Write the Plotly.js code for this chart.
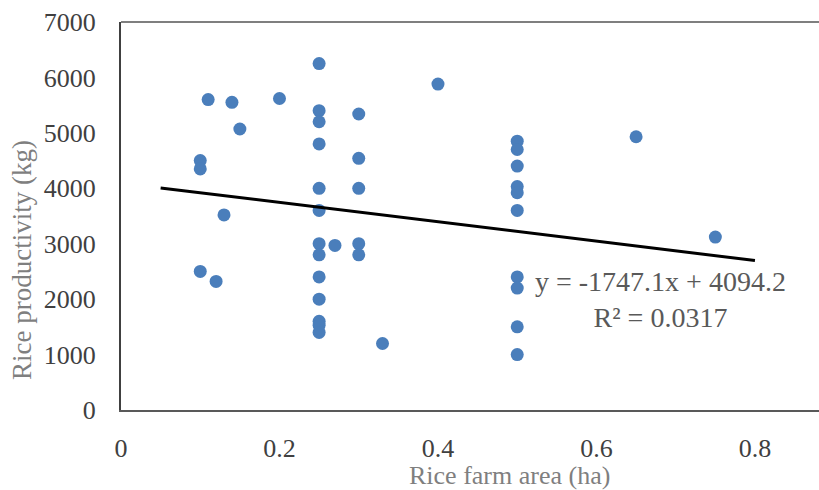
<!DOCTYPE html>
<html>
<head>
<meta charset="utf-8">
<script src="https://cdn.plot.ly/plotly-3.0.1.min.js"></script>
<style>html,body{margin:0;padding:0;background:#fff;}#chart{width:819px;height:490px;}</style>
</head>
<body>
<div id="chart"></div>
<script>
// Observed data: rice farm area (ha) vs rice productivity (kg)
var farmArea = [0.11, 0.14, 0.20, 0.15, 0.10, 0.10, 0.13, 0.10, 0.12,
                0.25, 0.25, 0.25, 0.25, 0.25, 0.25, 0.25, 0.25, 0.25, 0.25, 0.25, 0.25, 0.25,
                0.27, 0.30, 0.30, 0.30, 0.30, 0.30, 0.33, 0.40,
                0.50, 0.50, 0.50, 0.50, 0.50, 0.50, 0.50, 0.50, 0.50, 0.50,
                0.65, 0.75];
var productivity = [5600, 5550, 5620, 5070, 4500, 4350, 3520, 2500, 2320,
                    6250, 5400, 5200, 4800, 4000, 3600, 3000, 2800, 2400, 2000, 1600, 1530, 1400,
                    2970, 5340, 4540, 4000, 3000, 2800, 1200, 5880,
                    4850, 4700, 4400, 4030, 3920, 3600, 2400, 2200, 1500, 1000,
                    4930, 3120];

// Linear trendline as reported on the chart
var trendSlope = -1747.1;
var trendIntercept = 4094.2;
var trendX = [0.05, 0.8];
var trendY = trendX.map(function (x) { return trendSlope * x + trendIntercept; });

var xTicks = [0, 0.2, 0.4, 0.6, 0.8];
var xTickText = ['0', '0.2', '0.4', '0.6', '0.8'];
var yTicks = [0, 1000, 2000, 3000, 4000, 5000, 6000, 7000];

var serif = 'Liberation Serif, Times New Roman, serif';

var traces = [
  {
    x: farmArea, y: productivity, type: 'scatter', mode: 'markers',
    marker: {color: '#4a7ebb', size: 13},
    showlegend: false, hoverinfo: 'x+y'
  },
  {
    x: trendX, y: trendY, type: 'scatter', mode: 'lines',
    line: {color: '#000000', width: 3},
    showlegend: false, hoverinfo: 'skip'
  }
];

var layout = {
  width: 819, height: 490,
  margin: {l: 121, r: 0, t: 22, b: 80},
  paper_bgcolor: '#ffffff', plot_bgcolor: '#ffffff',
  font: {family: serif, color: '#404040'},
  xaxis: {
    range: [0, 0.8808], tickvals: xTicks, ticktext: xTickText,
    showgrid: false, zeroline: false,
    showline: true, linecolor: '#595959', linewidth: 2,
    ticks: '', ticklabelstandoff: 14,
    tickfont: {family: serif, size: 26, color: '#404040'}
  },
  yaxis: {
    range: [0, 7000], tickvals: yTicks,
    showgrid: false, zeroline: false,
    showline: true, linecolor: '#404040', linewidth: 2,
    ticks: '', ticklabelstandoff: 18,
    tickfont: {family: serif, size: 26, color: '#404040'}
  },
  shapes: [
    {type: 'line', xref: 'paper', yref: 'paper', x0: 0, x1: 1, y0: 1, y1: 1,
     line: {color: '#7f7f7f', width: 2}}
  ],
  annotations: [
    {text: 'Rice productivity (kg)', xref: 'paper', yref: 'paper',
     x: -0.1418, y: 0.3866, textangle: -90, showarrow: false,
     xanchor: 'center', yanchor: 'middle',
     font: {family: serif, size: 27, color: '#7f7f7f'}},
    {text: 'Rice farm area (ha)', xref: 'paper', yref: 'paper',
     x: 0.557, y: -0.168, showarrow: false,
     xanchor: 'center', yanchor: 'middle',
     font: {family: serif, size: 26, color: '#7f7f7f'}},
    {text: 'y = -1747.1x + 4094.2<br>R² = 0.0317', xref: 'x', yref: 'y',
     x: 0.681, y: 1990, showarrow: false, align: 'center',
     xanchor: 'center', yanchor: 'middle',
     font: {family: serif, size: 28, color: '#595959'}}
  ]
};

Plotly.newPlot('chart', traces, layout, {displayModeBar: false, staticPlot: true});
</script>
</body>
</html>
